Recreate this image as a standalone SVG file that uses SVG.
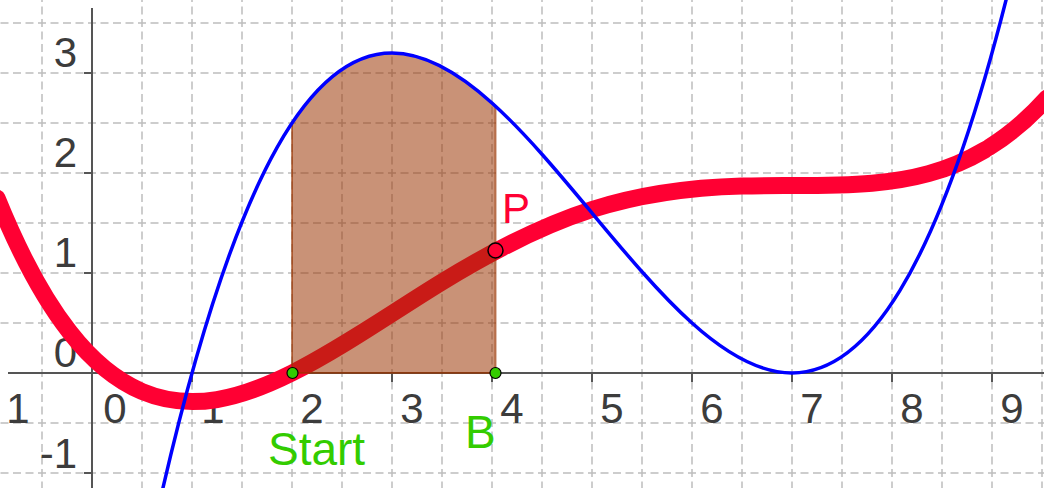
<svg xmlns="http://www.w3.org/2000/svg" width="1044" height="488" viewBox="0 0 1044 488">
<style>
.grid{stroke:#bdbdbd;stroke-width:1.5;stroke-dasharray:8 4.5;fill:none}
.axis{stroke:#555;stroke-width:2;fill:none}
.num{font-family:"Liberation Sans",Arial,sans-serif;font-size:42px;fill:#3c3c3c}
.lbl{font-family:"Liberation Sans",Arial,sans-serif;font-size:46px}
.red{stroke:#ff0033;stroke-width:17;fill:none;stroke-linecap:round;stroke-linejoin:round}
</style>
<rect width="1044" height="488" fill="#fff"/>
<g id="grid">
<path class="grid" d="M-12,23H1044M-12,73H1044M-12,123H1044M-12,173H1044M-12,223H1044M-12,273H1044M-12,323H1044M-12,423H1044M-12,473H1044"/>
<path class="grid" d="M42,-31V488M142,-31V488M192,-31V488M242,-31V488M292,-31V488M342,-31V488M392,-31V488M442,-31V488M492,-31V488M542,-31V488M592,-31V488M642,-31V488M692,-31V488M742,-31V488M792,-31V488M842,-31V488M892,-31V488M942,-31V488M992,-31V488M1042,-31V488"/>
</g>
<g id="axes">
<path class="axis" d="M8,373H1044M92,8V488"/>
<path class="axis" d="M-8,373v9M192,373v9M292,373v9M392,373v9M492,373v9M592,373v9M692,373v9M792,373v9M892,373v9M992,373v9M84,73h8M84,173h8M84,273h8M84,473h8"/>
</g>
<g id="axis-labels" class="num">
<text x="18" y="423" text-anchor="middle">1</text>
<text x="115" y="423" text-anchor="middle">0</text>
<text x="213" y="423" text-anchor="middle">1</text>
<text x="312" y="423" text-anchor="middle">2</text>
<text x="412" y="423" text-anchor="middle">3</text>
<text x="512" y="423" text-anchor="middle">4</text>
<text x="612" y="423" text-anchor="middle">5</text>
<text x="712" y="423" text-anchor="middle">6</text>
<text x="812" y="423" text-anchor="middle">7</text>
<text x="912" y="423" text-anchor="middle">8</text>
<text x="1012" y="423" text-anchor="middle">9</text>
<text x="77" y="67" text-anchor="end">3</text>
<text x="77" y="167" text-anchor="end">2</text>
<text x="77" y="267" text-anchor="end">1</text>
<text x="77" y="367" text-anchor="end">0</text>
<text x="77" y="468" text-anchor="end">-1</text>
</g>
<g id="integral-curve">
<path class="red" d="M-3,198.06C45.33,317.2 93.67,371.05 142,391.47C192,412.59 242,398 292,373C342,348 392,312.59 442,281.97C492,251.34 542,225.5 592,209.5C642,193.5 692,187.34 742,185.97C785.33,184.78 828.67,187.02 872,183.25C909.67,179.97 947.33,172.06 985,149.81"/>
<path class="red" d="M989,147.39C1008.33,135.43 1027.67,119.53 1047,98.03"/>
</g>
<g id="area">
<path d="M292,373L292,123C359.83,21.25 427.67,43.75 495.5,106.19L495.5,373Z" fill="#993300" fill-opacity="0.535" stroke="#993300" stroke-opacity="0.6" stroke-width="2"/>
</g>
<g id="function-f">
<path d="M162,492.07C238.67,158.8 315.33,53 392,53C458.67,53 525.33,133 592,213C658.67,293 725.33,373 792,373C864,373 936,279.69 1008,-7.71" fill="none" stroke="#0000ff" stroke-width="3.5"/>
</g>
<g id="point-Start">
<circle cx="292.5" cy="373" r="5.5" fill="#33cc00" stroke="#000" stroke-width="1.2"/>
<text class="lbl" x="268" y="465" fill="#33cc00">Start</text>
</g>
<g id="point-B">
<circle cx="495.5" cy="373" r="5.5" fill="#33cc00" stroke="#000" stroke-width="1.2"/>
<text class="lbl" x="465" y="448" fill="#33cc00">B</text>
</g>
<g id="point-P">
<circle cx="495.5" cy="250.5" r="7.5" fill="#ff0033" stroke="#000" stroke-width="1.5"/>
<text class="lbl" x="502" y="223" fill="#ff0033" style="font-size:42px">P</text>
</g>
</svg>
